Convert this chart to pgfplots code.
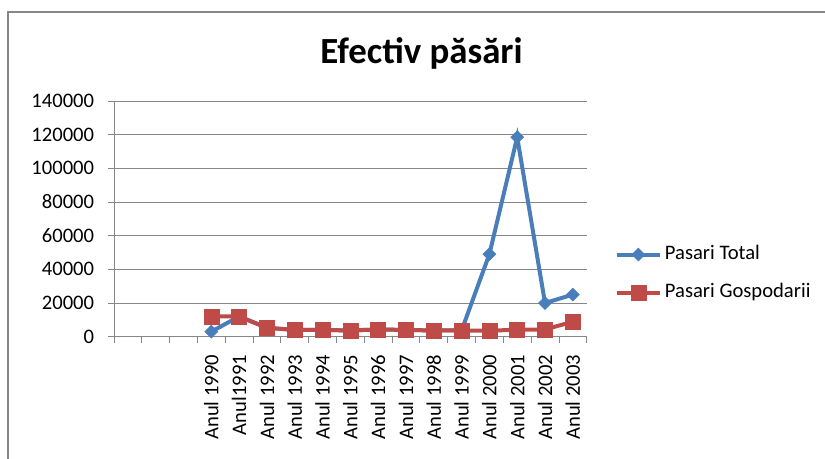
\documentclass[border=0pt]{standalone}
\usepackage{fontspec}
\setmainfont{Carlito}
\usepackage{pgfplots}
\pgfplotsset{compat=1.18}
\definecolor{sblue}{HTML}{4A7EBB}
\definecolor{sred}{HTML}{BE4B48}
\definecolor{gridc}{HTML}{878787}
\begin{document}
\begin{tikzpicture}[x=1bp,y=1bp]
\useasboundingbox (0,0) rectangle (825,459);
\draw[gridc, line width=2bp] (8,0) -- (8,447) -- (826,447);
\node[anchor=base] at (421.5,395.7) {\fontsize{37}{44}\selectfont\bfseries Efectiv păsări};
\begin{axis}[
  at={(114bp,122.3bp)}, anchor=south west,
  scale only axis, width=472.7bp, height=235.7bp,
  xmin=-0.5, xmax=16.5, ymin=0, ymax=140000,
  axis x line*=bottom, axis y line*=left,
  axis line style={-, draw=gridc, line width=0.8bp},
  ymajorgrids, major grid style={draw=gridc, line width=0.8bp},
  ytick={0,20000,...,140000},
  scaled y ticks=false,
  /pgf/number format/fixed,
  /pgf/number format/set thousands separator={},
  /pgf/number format/assume math mode=true,
  tick align=outside,
  major tick length=6bp, minor tick length=6bp,
  tick style={draw=gridc, line width=0.8bp},
  major x tick style={draw=none},
  xtick={0,...,16},
  minor xtick={-0.5,0.5,...,16.5},
  xticklabels={,,,Anul 1990,Anul1991,Anul 1992,Anul 1993,Anul 1994,Anul 1995,Anul 1996,Anul 1997,Anul 1998,Anul 1999,Anul 2000,Anul 2001,Anul 2002,Anul 2003},
  xticklabel style={yshift=-12bp, rotate=90, anchor=east, inner sep=0pt, font=\fontsize{20.7}{24}\selectfont},
  yticklabel style={anchor=east, inner sep=0pt, xshift=-13.7bp, font=\fontsize{20.7}{24}\selectfont},
  clip=false,
  legend cell align=left,
  legend image code/.code={\draw[mark repeat=2,mark phase=2,#1] plot coordinates {(0bp,0bp) (21.5bp,0bp) (43bp,0bp)};},
  legend style={at={(1,0.268)}, anchor=west, xshift=28bp, draw=none, fill=none, inner sep=0pt, row sep=19bp, column sep=3bp,
    font=\fontsize{20.7}{24}\selectfont, nodes={inner sep=0pt, text height=14bp, text depth=5bp}},
]
\addplot[sblue, line width=4bp, mark=square*, mark size=4.6bp, mark options={solid, rotate=45, line width=0.5bp}] coordinates {
 (3,3000) (4,12000) (5,5300) (6,4000) (7,4000) (8,3700) (9,4300) (10,4000) (11,3700) (12,3700) (13,49000) (14,118500) (15,20000) (16,25000)};
\addlegendentry{Pasari Total}
\addplot[sred, line width=4bp, mark=square*, mark size=7.5bp, mark options={solid, line width=0.5bp}] coordinates {
 (3,12000) (4,12000) (5,5300) (6,4000) (7,4000) (8,3700) (9,4300) (10,4000) (11,3700) (12,3700) (13,3500) (14,4200) (15,4300) (16,8900)};
\addlegendentry{Pasari Gospodarii}
\end{axis}
\end{tikzpicture}
\end{document}
